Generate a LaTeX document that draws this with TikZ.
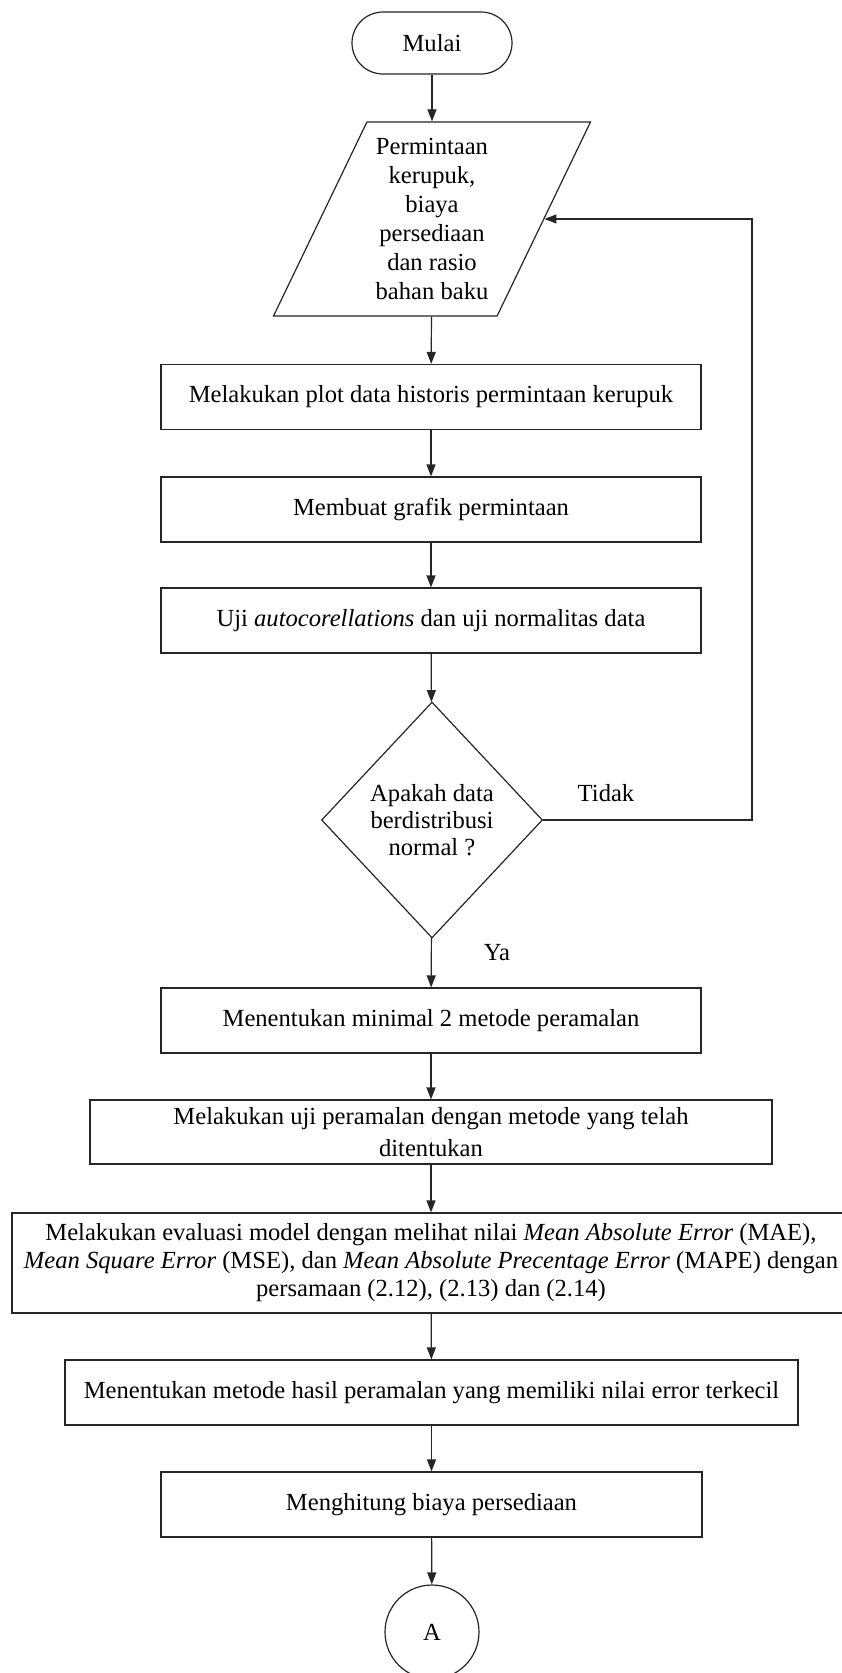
\documentclass[tikz,border=0pt]{standalone}
\usepackage{fontspec}
\setmainfont{Liberation Serif}
\usetikzlibrary{shapes.geometric,arrows.meta}
\begin{document}
\begin{tikzpicture}[x=1pt,y=-1pt,
  every node/.style={font=\fontsize{24.6}{29}\selectfont},
  shp/.style={draw=black!85,line width=1.2pt,inner sep=0pt,align=center},
  box/.style={shp,rectangle,minimum height=65pt},
  arr/.style={draw=black!85,line width=1.2pt,-{Triangle[length=12pt,width=9pt]}}]
\useasboundingbox[fill=white] (0,0) rectangle (841,1673);

\node[shp,rectangle,rounded corners=31pt,minimum width=160pt,minimum height=62pt] (start) at (432,43) {Mulai};
\node[shp,trapezium,trapezium left angle=63.4,trapezium right angle=116.6,trapezium stretches=true,minimum width=318pt,minimum height=194pt] (input) at (432,219) {Permintaan\\kerupuk,\\biaya\\persediaan\\dan rasio\\bahan baku};
\node[box,minimum width=540pt] (b1) at (431,397) {Melakukan plot data historis permintaan kerupuk};
\node[box,minimum width=540pt] (b2) at (431,509.5) {Membuat grafik permintaan};
\node[box,minimum width=540pt] (b3) at (431,620.5) {Uji \textit{autocorellations} dan uji normalitas data};
\node[shp,diamond,minimum width=221pt,minimum height=236pt,font=\fontsize{24.6}{27}\selectfont] (dec) at (432,820) {Apakah data\\berdistribusi\\normal ?};
\node[box,minimum width=540pt] (b4) at (431,1020.5) {Menentukan minimal 2 metode peramalan};
\node[box,minimum width=682pt,minimum height=64pt,font=\fontsize{24.6}{32}\selectfont] (b5) at (431,1132) {Melakukan uji peramalan dengan metode yang telah\\ditentukan};
\node[box,minimum width=838pt,minimum height=100pt,font=\fontsize{24.6}{28}\selectfont] (b6) at (431,1263) {Melakukan evaluasi model dengan melihat nilai \textit{Mean Absolute Error} (MAE),\\\textit{Mean Square Error} (MSE), dan \textit{Mean Absolute Precentage Error} (MAPE) dengan\\persamaan (2.12), (2.13) dan (2.14)};
\node[box,minimum width=733pt] (b7) at (431.5,1392.5) {Menentukan metode hasil peramalan yang memiliki nilai error terkecil};
\node[box,minimum width=541pt] (b8) at (431.5,1504.5) {Menghitung biaya persediaan};
\node[shp,circle,minimum size=94pt] (A) at (432,1632) {A};

\node (tidak) at (606,793) {Tidak};
\node (ya) at (497,953) {Ya};
\coordinate (loopc) at (752,820);

\draw[arr] (start) -- (input);
\draw[arr] (input) -- (b1);
\draw[arr] (b1) -- (b2);
\draw[arr] (b2) -- (b3);
\draw[arr] (b3) -- (dec);
\draw[arr] (dec) -- (b4);
\draw[arr] (b4) -- (b5);
\draw[arr] (b5) -- (b6);
\draw[arr] (b6) -- (b7);
\draw[arr] (b7) -- (b8);
\draw[arr] (b8) -- (A);
\draw[arr] (dec.east) -- (loopc) |- (input);
\end{tikzpicture}
\end{document}
